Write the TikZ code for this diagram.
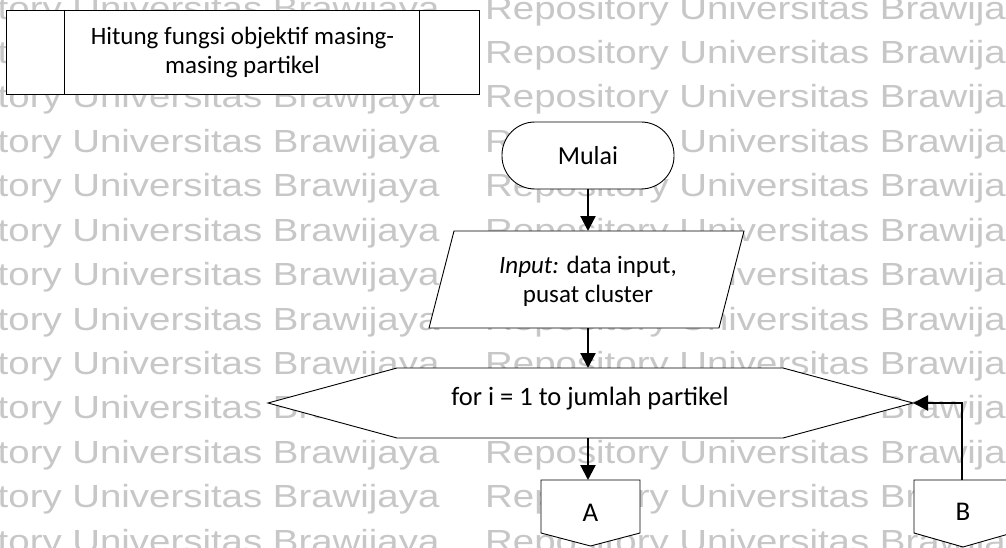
\documentclass[tikz,border=0pt]{standalone}
\usepackage{fontspec}
\setmainfont{Carlito}
\newfontfamily\wmfont{Liberation Sans}
\usetikzlibrary{arrows.meta}

\begin{document}
\begin{tikzpicture}[x=1pt,y=-1pt,
  shapeline/.style={draw=black, line width=0.9pt, fill=white},
  flowarrow/.style={draw=black, line width=2.2pt, -{Triangle[length=15pt,width=15pt]}},
  txt/.style={font=\fontsize{25}{29}\selectfont, align=center, inner sep=0pt, text=black},
  bigtxt/.style={txt, font=\fontsize{27}{30}\selectfont},
  wmark/.style={font=\wmfont\fontsize{32}{32}\selectfont, text=black!22,
                anchor=base west, inner sep=0pt, xscale=1.2}
]
\clip (0,0) rectangle (1006,548);
\fill[white] (0,0) rectangle (1006,548);

% background repository stamp, two columns of repeated lines
\foreach \k [count=\i] in {-2,...,10} {
  \node[wmark] (wmL\i) at (-122, 108+44.4*\k) {Repository Universitas Brawijaya};
  \node[wmark] (wmR\i) at (485, 108+44.4*\k) {Repository Universitas Brawijaya};
}

% predefined process box
\node[shapeline, minimum width=473pt, minimum height=84pt, inner sep=0pt] (proc) at (242.5,52) {};
\draw[line width=0.9pt] ([xshift=59pt]proc.north west) -- ([xshift=59pt]proc.south west);
\draw[line width=0.9pt] ([xshift=-60pt]proc.north east) -- ([xshift=-60pt]proc.south east);
\node[txt] (proctext) at (proc.center) {Hitung fungsi objektif masing-\\masing partikel};

% terminator
\node[shapeline, txt, font=\fontsize{26}{29}\selectfont, rounded corners=33pt,
      minimum width=172pt, minimum height=67pt] (mulai) at (588,155.5) {Mulai};

% input parallelogram
\draw[shapeline] (454,231) -- (744,231) -- (719,328) -- (429,328) -- cycle;
\node[txt] (input) at (588,281) {\textit{Input:} data input,\\pusat cluster};
\coordinate (input-n) at (588,231);
\coordinate (input-s) at (588,328);

% loop hexagon
\draw[shapeline] (268,403) -- (397,368) -- (783,368) -- (913,403) -- (783,438) -- (397,438) -- cycle;
\node[txt, font=\fontsize{26.5}{29}\selectfont, anchor=base] (loop) at (590,405) {for i = 1 to jumlah partikel};
\coordinate (loop-n) at (588,368);
\coordinate (loop-s) at (588,438);
\coordinate (loop-e) at (913,403);

% off-page connectors
\draw[shapeline] (541,480) -- (640,480) -- (640,533) -- (590.5,546) -- (541,533) -- cycle;
\node[bigtxt, anchor=base] (conA) at (590.5,521) {A};
\coordinate (conA-n) at (588,480);

\draw[shapeline] (914,480) -- (1012,480) -- (1012,533) -- (963,547) -- (914,533) -- cycle;
\node[bigtxt, anchor=base] (conB) at (963,520) {B};
\coordinate (conB-n) at (962,480);

% flow
\draw[flowarrow] (mulai.south) -- (input-n);
\draw[flowarrow] (input-s) -- (loop-n);
\draw[flowarrow] (loop-s) -- (conA-n);
\draw[flowarrow] (conB-n) |- (loop-e);
\end{tikzpicture}
\end{document}
